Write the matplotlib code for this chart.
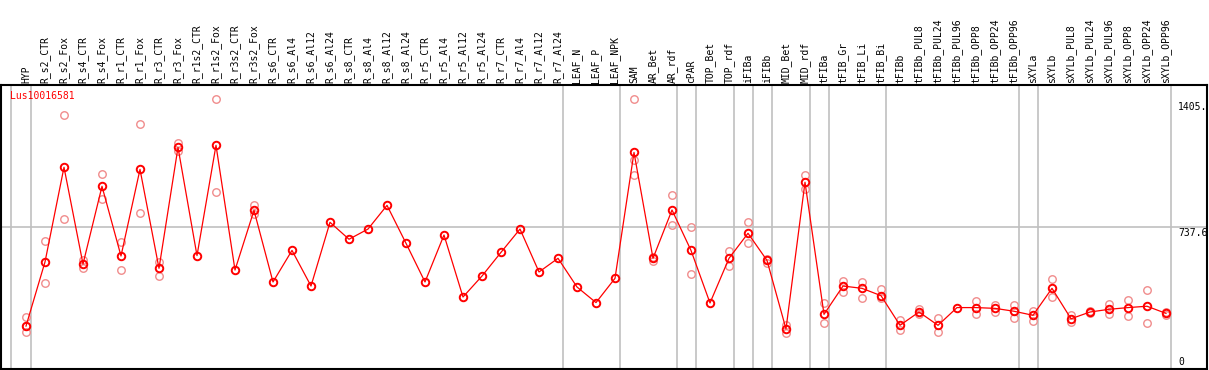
import numpy as np
import matplotlib
matplotlib.use("Agg")
import matplotlib.pyplot as plt
import matplotlib.transforms as mtransforms

title = "Lus10016581"

categories = [
    "HYP", "R_s2_CTR", "R_s2_Fox", "R_s4_CTR", "R_s4_Fox", "R_r1_CTR", "R_r1_Fox",
    "R_r3_CTR", "R_r3_Fox", "R_r1s2_CTR", "R_r1s2_Fox", "R_r3s2_CTR", "R_r3s2_Fox",
    "R_s6_CTR", "R_s6_Al4", "R_s6_Al12", "R_s6_Al24", "R_s8_CTR", "R_s8_Al4",
    "R_s8_Al12", "R_s8_Al24", "R_r5_CTR", "R_r5_Al4", "R_r5_Al12", "R_r5_Al24",
    "R_r7_CTR", "R_r7_Al4", "R_r7_Al12", "R_r7_Al24", "LEAF_N", "LEAF_P", "LEAF_NPK",
    "SAM", "AR_Bet", "AR_rdf", "cPAR", "TOP_Bet", "TOP_rdf", "iFIBa", "iFIBb",
    "MID_Bet", "MID_rdf", "tFIBa", "tFIB_Gr", "tFIB_Li", "tFIB_Bi", "tFIBb",
    "tFIBb_PUL8", "tFIBb_PUL24", "tFIBb_PUL96", "tFIBb_OPP8", "tFIBb_OPP24", "tFIBb_OPP96",
    "sXYLa", "sXYLb", "sXYLb_PUL8", "sXYLb_PUL24", "sXYLb_PUL96", "sXYLb_OPP8",
    "sXYLb_OPP24", "sXYLb_OPP96",
]

mean_values = [
    223, 556, 1048, 545, 949, 587, 1037, 523, 1151, 589, 1162, 514, 824,
    452, 616, 431, 762, 674, 727, 850, 653, 452, 696, 374, 483, 606, 727, 504, 575,
    426, 345, 471,
    1125, 575, 826, 616, 343, 575, 705, 564, 208, 970,
    284, 431, 419, 381, 227,
    296, 227, 319, 319, 315, 300,
    279, 419, 261, 296, 310, 319, 326, 289,
]

nan = np.nan
rep_a = [
    268, 663, 1319, 566, 1011, 660, 1271, 557, 1172, nan, 1405, nan, 852,
    nan, nan, nan, nan, nan, nan, nan, nan, nan, nan, nan, nan, nan, nan, nan, nan,
    nan, nan, nan,
    1405, 563, 902, 738, nan, 613, 762, 552, 230, 1006,
    341, 457, 450, 414, 255,
    310, 263, nan, 353, 334, 332,
    303, 466, 279, 303, 339, 358, 409, 296,
]
rep_b = [
    191, 447, 778, 526, 885, 513, 809, 481, 1134, nan, 918, nan, 803,
    nan, nan, nan, nan, nan, nan, nan, nan, nan, nan, nan, nan, nan, nan, nan, nan,
    nan, nan, nan,
    1006, 583, 750, 493, nan, 533, 653, 570, 189, 933,
    241, 398, 367, 367, 203,
    286, 194, nan, 284, 296, 265,
    251, 376, 244, 290, 286, 277, 237, 283,
]
rep_c = [225] + [nan] * 31 + [1086] + [nan] * 28

separators = [-0.8, 0, 28, 31, 34, 35, 37, 38, 39, 41, 42, 45, 52, 53, 60]
mid_value = 737.6
max_value = 1405.0
axis_labels = ["1405.", "737.6", "0"]

FONT = "DejaVu Sans Mono"
W, H = 1209, 370
fig = plt.figure(figsize=(W / 100, H / 100), dpi=100)
# axes frame in pixels: left 1, right 1207, top 85, bottom 369
ax = fig.add_axes([1 / W, (H - 369) / H, 1206 / W, 284 / H])

x = np.arange(len(categories))
# pixel x = 26 + 19 * i
ax.set_xlim((1 - 26) / 19, (1207 - 26) / 19)
ax.set_ylim(0, max_value * 1.05)

for s in separators:
    ax.axvline(s + (0.24 if s >= 0 else 0), color="#c0c0c0", lw=1.2, zorder=1)
ax.axhline(mid_value, color="#c0c0c0", lw=1.2, zorder=1)

rep_color = "#f08c8c"
for reps in (rep_a, rep_b, rep_c):
    ax.plot(x, reps, ls="none", marker="o", ms=5.4, mfc="none", mec=rep_color,
            mew=1.0, zorder=2)

ax.plot(x, mean_values, color="#ff0000", lw=0.9, zorder=3)
ax.plot(x, mean_values, ls="none", marker="o", ms=5.4, mfc="none", mec="#ff0000",
        mew=1.4, zorder=4)

ax.set_xticks([])
ax.set_yticks([])
for sp in ax.spines.values():
    sp.set_linewidth(1.5)
    sp.set_color("black")

trans = mtransforms.blended_transform_factory(ax.transData, ax.transAxes)
for i, lab in enumerate(categories):
    ax.text(i, 1 + 2 / 284, lab, rotation=90, ha="center", va="bottom",
            transform=trans, fontsize=7.0, family=FONT, clip_on=False)

ax.text(9 / 1206, (369 - 96) / 284, title, color="#ff0000", fontsize=7.0,
        family=FONT, ha="left", va="center", transform=ax.transAxes)

label_y = [(369 - 107) / 284, (369 - 232.5) / 284, (369 - 362) / 284]
for lab, yy in zip(axis_labels, label_y):
    ax.text((1178 - 26) / 19, yy, lab, fontsize=7.0, family=FONT, ha="left",
            va="center", transform=trans, clip_on=True)

fig.savefig("out.png", dpi=100)
